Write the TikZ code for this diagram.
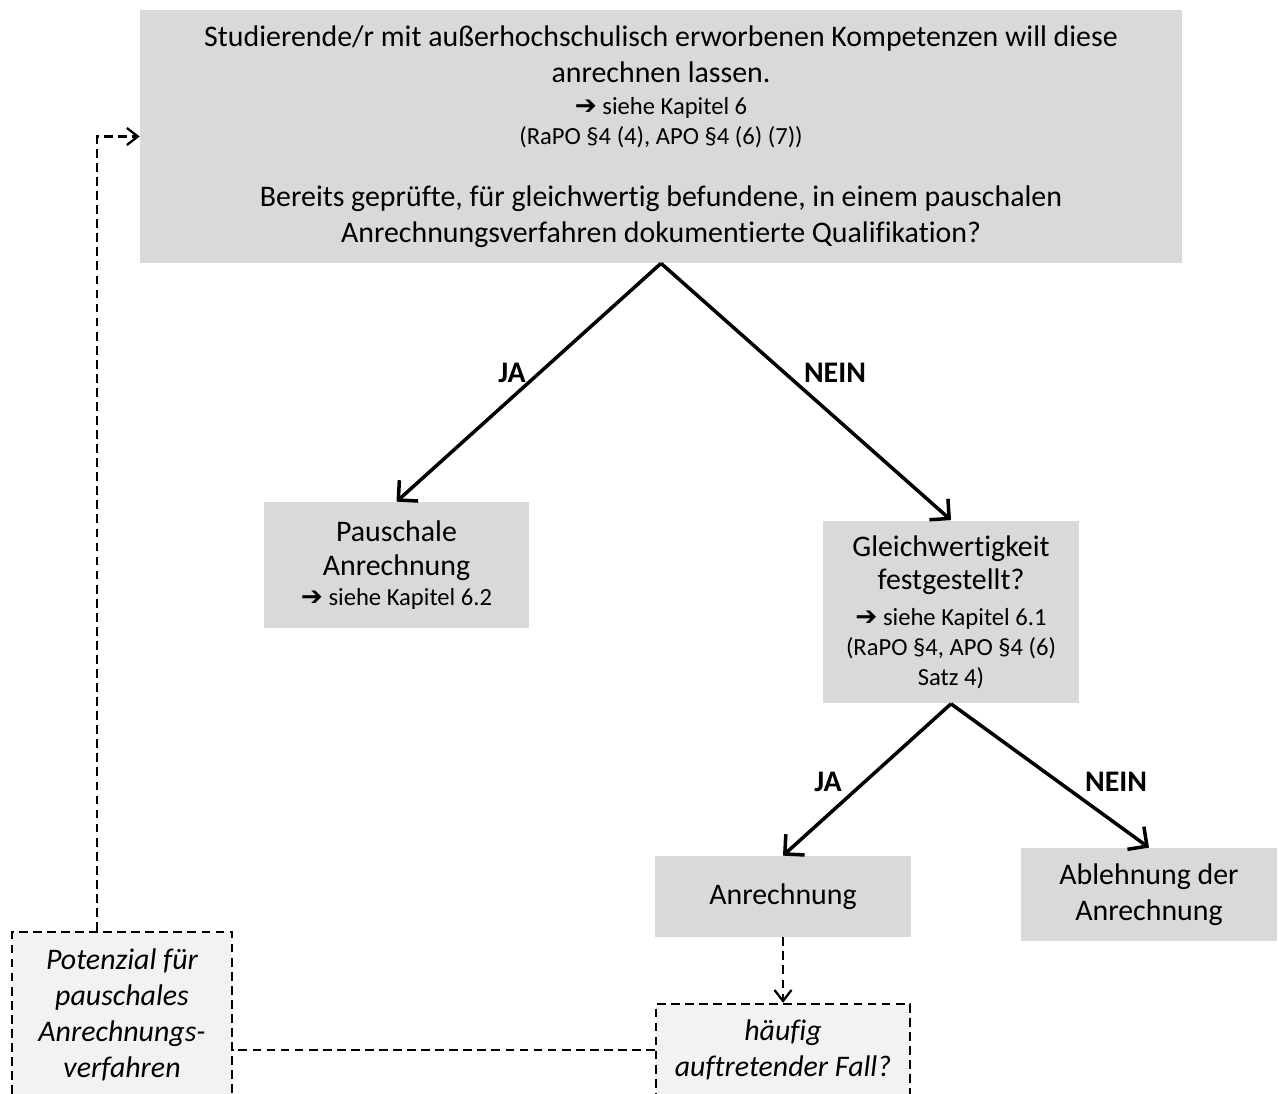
\documentclass[tikz,border=0pt]{standalone}
\usepackage{fontspec}
\setmainfont{Carlito}[Ligatures=CommonOff]
\newfontfamily\pfeilfont{DejaVu Sans}
\usetikzlibrary{arrows.meta}

\definecolor{kastengrau}{HTML}{D9D9D9}
\definecolor{kastenhell}{HTML}{F2F2F2}

\newcommand{\grosstext}{\fontsize{17}{20.4}\selectfont}
\newcommand{\kleintext}{\fontsize{14}{17}\selectfont}
\newcommand{\siehe}{{\pfeilfont\bfseries\fontsize{15}{17}\selectfont ➔}\ siehe Kapitel}

\tikzset{
  graukasten/.style={fill=kastengrau, inner sep=0pt, align=center, font=\grosstext},
  strichkasten/.style={draw, fill=kastenhell, line width=1.3pt, dash pattern=on 5pt off 3pt,
    inner sep=0pt, align=center, font=\grosstext\itshape},
  antwort/.style={font=\grosstext\bfseries},
  pfeil/.style={line width=2pt, -{Straight Barb[length=2.8mm, width=5.6mm]}},
  strichlinie/.style={line width=1.3pt, dash pattern=on 5pt off 3pt},
  strichpfeil/.style={strichlinie, -{Straight Barb[length=2.2mm, width=3.4mm]}}
}

\begin{document}
\begin{tikzpicture}[x=0.02cm, y=-0.02cm]
  \useasboundingbox (0,0) rectangle (1279,1094);
  \clip (0,0) rectangle (1279,1094);

  \node[graukasten, minimum width=20.84cm, minimum height=5.06cm] (start) at (661,136.5)
    {Studierende/r mit außerhochschulisch erworbenen Kompetenzen will diese\\
     anrechnen lassen.\\[-1.7pt]
     {\kleintext\siehe{} 6}\\[-3.4pt]
     {\kleintext (RaPO §4 (4), APO §4 (6) (7))}\\[14.8pt]
     Bereits geprüfte, für gleichwertig befundene, in einem pauschalen\\
     Anrechnungsverfahren dokumentierte Qualifikation?};

  \node[graukasten, minimum width=5.3cm, minimum height=2.52cm] (pausch) at (396.5,565)
    {Pauschale\\[-1.1pt]
     Anrechnung\\[-3pt]
     {\kleintext\siehe{} 6.2}};

  \node[graukasten, minimum width=5.12cm, minimum height=3.66cm] (gleich) at (951,612)
    {Gleichwertigkeit\\[-1.2pt]
     festgestellt?\\[0pt]
     {\kleintext\siehe{} 6.1}\\[-3.4pt]
     {\kleintext (RaPO §4, APO §4 (6)}\\[-3.4pt]
     {\kleintext Satz 4)}};

  \node[graukasten, minimum width=5.12cm, minimum height=1.62cm] (anr) at (783,896.5) {Anrechnung};
  \node[graukasten, minimum width=5.12cm, minimum height=1.86cm] (abl) at (1149,894.5)
    {Ablehnung der\\Anrechnung};

  \node[strichkasten, minimum width=4.4cm, minimum height=3.32cm] (pot) at (122,1015)
    {Potenzial für\\pauschales\\Anrechnungs-\\verfahren};
  \node[strichkasten, minimum width=5.08cm, minimum height=1.84cm] (haeufig) at (783,1050)
    {häufig\\auftretender Fall?};

  \node[antwort] (ja1) at (512,373) {JA};
  \node[antwort] (nein1) at (835,373) {NEIN};
  \node[antwort] (ja2) at (828,782) {JA};
  \node[antwort] (nein2) at (1116,782) {NEIN};

  \draw[pfeil] (start.south) -- (pausch.north);
  \draw[pfeil] (start.south) -- (gleich.north);
  \draw[pfeil] (gleich.south) -- (anr.north);
  \draw[pfeil] (gleich.south) -- (abl.north);
  \draw[strichpfeil] (anr.south) -- (haeufig.north);
  \draw[strichlinie] (haeufig.west) -- (haeufig.west -| pot.east);
  \draw[strichpfeil] ([xshift=-0.5cm]pot.north) |- (start.west);
\end{tikzpicture}
\end{document}
